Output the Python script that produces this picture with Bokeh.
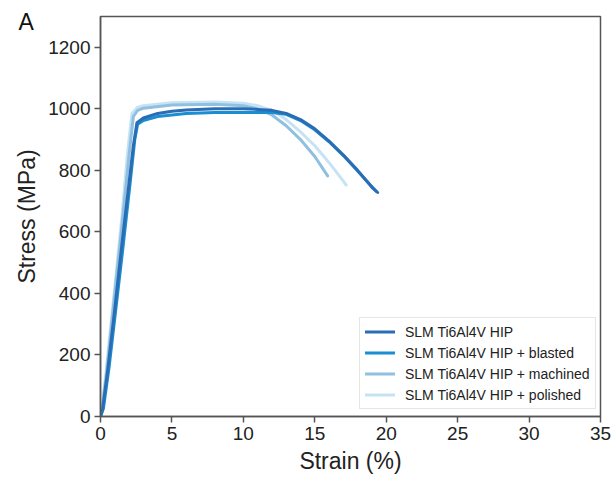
from bokeh.plotting import figure
from bokeh.models import Range1d, FixedTicker, Title, Legend, LegendItem
from bokeh.embed import file_html
from bokeh.resources import INLINE

# ---- data ----
hip_strain = [0, 0.15, 0.5, 1.0, 1.5, 2.0, 2.3, 2.55, 3.0, 4.0, 5.0, 6.0, 8.0, 10.0, 11.0, 12.0, 13.0, 14.0, 15.0, 16.0, 17.0, 18.0, 19.0, 19.4]
hip_stress = [0, 25, 150, 350, 560, 760, 880, 955, 970, 985, 992, 996, 1000, 1000, 998, 995, 985, 965, 935, 895, 850, 800, 745, 728]

blasted_strain = [0, 0.2, 0.6, 1.1, 1.6, 2.1, 2.4, 2.6, 3.0, 4.0, 6.0, 8.0, 10.0, 12.0, 13.0, 14.0, 15.0, 16.0, 17.0, 18.0, 19.0, 19.3]
blasted_stress = [0, 25, 160, 360, 560, 770, 900, 950, 962, 975, 985, 988, 988, 988, 982, 962, 932, 893, 848, 798, 747, 732]

machined_strain = [0, 0.1, 0.4, 1.0, 1.5, 2.0, 2.3, 2.6, 3.0, 5.0, 8.0, 10.0, 11.0, 12.0, 13.0, 14.0, 15.0, 15.9]
machined_stress = [0, 25, 130, 400, 620, 850, 975, 995, 1002, 1012, 1015, 1010, 1000, 980, 945, 900, 845, 782]

polished_strain = [0, 0.1, 0.4, 1.0, 1.5, 1.9, 2.2, 2.6, 3.0, 5.0, 8.0, 10.0, 11.0, 12.0, 13.0, 14.0, 15.0, 16.0, 17.0, 17.2]
polished_stress = [0, 30, 150, 420, 650, 860, 985, 1005, 1010, 1020, 1022, 1018, 1010, 995, 965, 925, 880, 825, 765, 752]

labels = ["SLM Ti6Al4V HIP", "SLM Ti6Al4V HIP + blasted",
          "SLM Ti6Al4V HIP + machined", "SLM Ti6Al4V HIP + polished"]
colors = ["#2a6db5", "#1a8ed0", "#8fc0e0", "#c5e3f3"]

y_ticks = [0, 200, 400, 600, 800, 1000, 1200]
x_ticks = [0, 5, 10, 15, 20, 25, 30, 35]

FONT = "Liberation Sans"

p = figure(width=613, height=478, output_backend="svg", toolbar_location=None,
           x_range=Range1d(0, 35), y_range=Range1d(0, 1300),
           min_border_left=100, min_border_right=13, min_border_top=16, min_border_bottom=62)
p.xgrid.visible = False
p.ygrid.visible = False
p.outline_line_color = "#555555"
p.outline_line_width = 1.5
p.background_fill_color = "white"
p.border_fill_color = "white"

series = [(polished_strain, polished_stress, 3),
          (machined_strain, machined_stress, 2),
          (blasted_strain, blasted_stress, 1),
          (hip_strain, hip_stress, 0)]
renderers = {}
for xs, ys, idx in series:
    r = p.line(xs, ys, line_color=colors[idx], line_width=3, line_join="round", line_cap="round")
    renderers[idx] = r

p.xaxis.ticker = FixedTicker(ticks=x_ticks)
p.yaxis.ticker = FixedTicker(ticks=y_ticks)
for ax in (p.xaxis, p.yaxis):
    ax.axis_line_color = "#555555"
    ax.axis_line_width = 1.5
    ax.major_tick_line_color = "#555555"
    ax.major_tick_line_width = 1.5
    ax.major_tick_in = 0
    ax.major_tick_out = 6
    ax.minor_tick_line_color = None
    ax.major_label_text_font = FONT
    ax.major_label_text_font_size = "19px"
    ax.major_label_text_color = "#222222"
    ax.axis_label_text_font = FONT
    ax.axis_label_text_font_size = "23px"
    ax.axis_label_text_font_style = "normal"
    ax.axis_label_text_color = "#222222"
    ax.major_label_standoff = 4
    ax.axis_label_standoff = 5
p.xaxis.axis_label = "Strain (%)"
p.yaxis.axis_label = "Stress (MPa)"

legend = Legend(items=[LegendItem(label=labels[i], renderers=[renderers[i]]) for i in range(4)],
                location=(259, 7))
legend.label_text_font = FONT
legend.label_text_font_size = "14px"
legend.label_text_color = "#222222"
legend.glyph_width = 30
legend.glyph_height = 17
legend.label_height = 17
legend.label_standoff = 10
legend.spacing = 4
legend.padding = 5
legend.margin = 0
legend.border_line_color = "#cccccc"
legend.border_line_width = 1
legend.background_fill_alpha = 0.9
p.add_layout(legend, "center")

panel_title = Title(text="A", align="left", vertical_align="bottom", offset=-82, standoff=-36,
                    text_font=FONT, text_font_size="23px", text_font_style="normal",
                    text_color="#111111")
p.add_layout(panel_title, "above")

open("out.html", "w").write(file_html(p, INLINE))
